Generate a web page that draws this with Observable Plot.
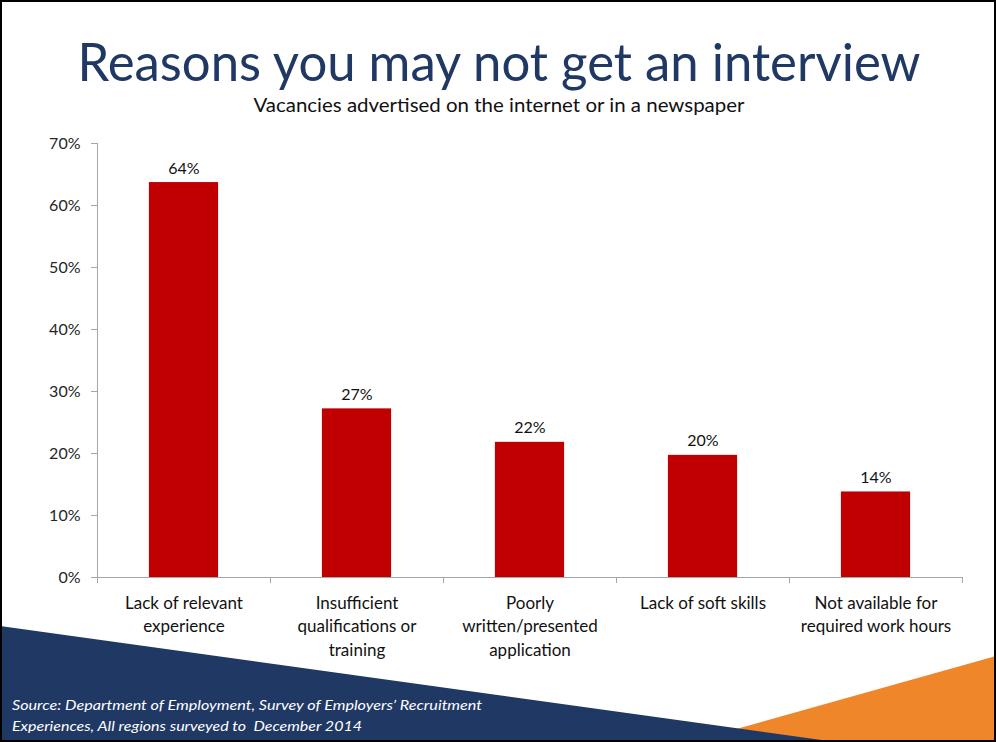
<!DOCTYPE html>
<html>
<head>
<meta charset="utf-8">
<script src="https://cdn.jsdelivr.net/npm/d3@7"></script>
<script src="https://cdn.jsdelivr.net/npm/@observablehq/plot@0.6"></script>
<style>
  html, body { margin: 0; padding: 0; background: #fff; }
  #slide { position: relative; width: 996px; height: 742px; overflow: hidden; background: #fff; font-family: Lato, "Open Sans", sans-serif; }
  #bg, #texts { position: absolute; left: 0; top: 0; }
  #chart { position: absolute; left: 0; top: 120px; }
  #frame { position: absolute; left: 0; top: 0; width: 996px; height: 742px; box-sizing: border-box; border: 2px solid #000; pointer-events: none; }
</style>
</head>
<body>
<div id="slide">
  <svg id="bg" width="996" height="742">
    <polygon points="690,742 996,656 996,742" fill="#F0862A"></polygon>
    <polygon points="0,626 836,742 0,742" fill="#1F3864"></polygon>
  </svg>
  <div id="chart"></div>
  <svg id="texts" width="996" height="742" style="pointer-events:none">
    <text id="title" x="499" y="81" text-anchor="middle" font-family="Lato, 'Open Sans', sans-serif" font-size="53" fill="#1F3864" textLength="843" lengthAdjust="spacingAndGlyphs"></text>
    <text id="subtitle" x="499" y="112" text-anchor="middle" font-family="Lato, 'Open Sans', sans-serif" font-size="18.5" fill="#111" textLength="491" lengthAdjust="spacingAndGlyphs"></text>
    <text id="src1" x="12" y="710" font-family="Lato, 'Open Sans', sans-serif" font-style="italic" font-size="14" fill="#fff" textLength="470" lengthAdjust="spacingAndGlyphs" style="white-space:pre"></text>
    <text id="src2" x="12" y="731" font-family="Lato, 'Open Sans', sans-serif" font-style="italic" font-size="14" fill="#fff" textLength="350" lengthAdjust="spacingAndGlyphs" style="white-space:pre"></text>
  </svg>
  <div id="frame"></div>
</div>
<script>
const titleText = "Reasons you may not get an interview";
const subtitleText = "Vacancies advertised on the internet or in a newspaper";
const sourceLines = [
  "Source: Department of Employment, Survey of Employers\u2019 Recruitment",
  "Experiences, All regions surveyed to  December 2014"
];
const categories = [
  "Lack of relevant\nexperience",
  "Insufficient\nqualifications or\ntraining",
  "Poorly\nwritten/presented\napplication",
  "Lack of soft skills",
  "Not available for\nrequired work hours"
];
const values = [63.7, 27.2, 21.8, 19.7, 13.8];
const valueLabels = ["64%", "27%", "22%", "20%", "14%"];
const yTicks = [0, 10, 20, 30, 40, 50, 60, 70];

document.getElementById("title").textContent = titleText;
document.getElementById("subtitle").textContent = subtitleText;
document.getElementById("src1").textContent = sourceLines[0];
document.getElementById("src2").textContent = sourceLines[1];

const data = categories.map((c, i) => ({i, category: c, value: values[i], label: valueLabels[i]}));
const boundaries = d3.range(categories.length + 1);
const axisGray = "#A6A6A6";

const chart = Plot.plot({
  width: 996,
  height: 580,
  marginLeft: 97,
  marginRight: 34,
  marginTop: 23,
  marginBottom: 123,
  style: {fontFamily: "Lato, 'Open Sans', sans-serif", fontSize: "16px", color: "#262626", background: "transparent"},
  x: {domain: [0, categories.length], axis: null},
  y: {domain: [0, 70], axis: null},
  marks: [
    Plot.axisY({ticks: yTicks, tickFormat: d => d + "%", tickSize: 6, tickPadding: 11, stroke: axisGray, fill: "#262626", fontSize: 16, label: null}),
    Plot.axisX({ticks: boundaries, tickFormat: () => "", tickSize: 6, stroke: axisGray, label: null}),
    Plot.ruleX([0], {stroke: axisGray}),
    Plot.rectY(data, {x1: d => d.i + 0.3, x2: d => d.i + 0.7, y: "value", fill: "#C00000"}),
    Plot.ruleY([0], {stroke: axisGray}),
    Plot.text(data, {x: d => d.i + 0.5, y: "value", text: "label", lineAnchor: "bottom", dy: -9, fontSize: 16, fill: "#111"}),
    Plot.text(data, {x: d => d.i + 0.5, y: 0, text: "category", lineAnchor: "top", dy: 15, lineHeight: 1.37, fontSize: 17, fill: "#111"})
  ]
});
document.getElementById("chart").appendChild(chart);
</script>
</body>
</html>
